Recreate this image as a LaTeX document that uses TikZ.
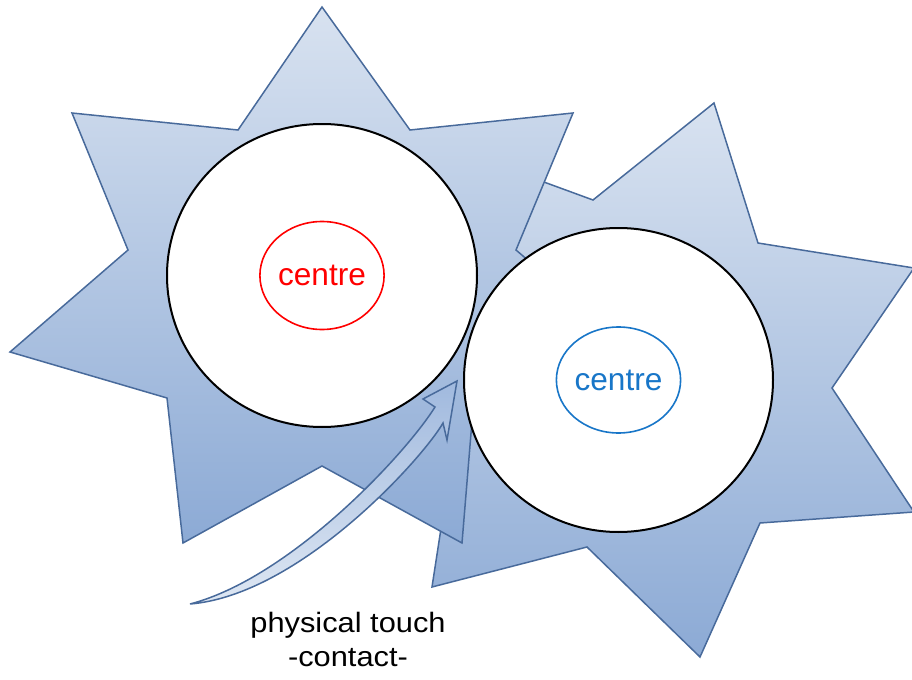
\documentclass[tikz,border=0pt]{standalone}
\usepackage{fontspec}
\setmainfont{Liberation Sans}
\usetikzlibrary{shapes.geometric}

\definecolor{startop}{RGB}{216,226,240}
\definecolor{starbot}{RGB}{140,170,213}
\definecolor{starline}{RGB}{72,106,155}
\definecolor{touchtop}{RGB}{160,185,222}
\definecolor{touchbot}{RGB}{222,231,243}
\definecolor{centreblue}{RGB}{24,118,200}

\tikzset{
  starbody/.style={draw=starline, line width=0.75pt, top color=startop, bottom color=starbot},
  touchbody/.style={draw=starline, line width=0.75pt, top color=touchtop, bottom color=touchbot},
  whitecore/.style={ellipse, draw=black, line width=1pt, fill=white, inner sep=0pt},
  hub/.style={ellipse, draw, line width=0.8pt, inner sep=0pt, font=\fontsize{15.8}{18}\selectfont},
  caption/.style={font=\fontsize{14}{16}\selectfont, xscale=1.1, anchor=base, inner sep=0pt},
}

\begin{document}
\begin{tikzpicture}[x=0.5pt, y=-0.5pt]
  \useasboundingbox (0,0) rectangle (912,680);

  % Right star (behind)
  \path[starbody] (714,103) -- (758,243) -- (914,268) -- (832,388) -- (914,512)
    -- (760,523) -- (700,657) -- (587,547) -- (432,587) -- (450,470)
    -- (360,420) -- (470,300) -- (462,152) -- (593,200) -- cycle;

  % Left star
  \path[starbody] (322,7) -- (410,130) -- (573,113) -- (516,250) -- (634,351)
    -- (474,397) -- (462,543) -- (322,466) -- (183,543) -- (167,398)
    -- (10,352) -- (128,250) -- (72,113) -- (238,130) -- cycle;

  % White cores
  \node[whitecore, minimum width=155pt, minimum height=151.5pt] (lcore) at (322,275.5) {};
  \node[whitecore, minimum width=154.5pt, minimum height=152pt] (rcore) at (618.5,380) {};

  % Centres
  \node[hub, draw=red, text=red, minimum width=58.5pt, minimum height=54pt] (lcentre) at (lcore) {centre};
  \node[hub, draw=centreblue, text=centreblue, minimum width=55pt, minimum height=53pt] (rcentre) at (rcore) {centre};

  % Touch arrow
  \coordinate (tail) at (190,604);
  \coordinate (tip) at (457,381);
  \path[touchbody] (tail) .. controls (290,578) and (405,455) .. (435,407) -- (423,399)
    -- (tip) -- (447,440) -- (443,423) .. controls (423,458) and (300,595) .. (tail) -- cycle;

  % Caption
  \node[caption] (touch) at (348,632) {physical touch};
  \node[caption] (contact) at ([yshift=-17pt]touch.base) {-contact-};

\end{tikzpicture}
\end{document}
